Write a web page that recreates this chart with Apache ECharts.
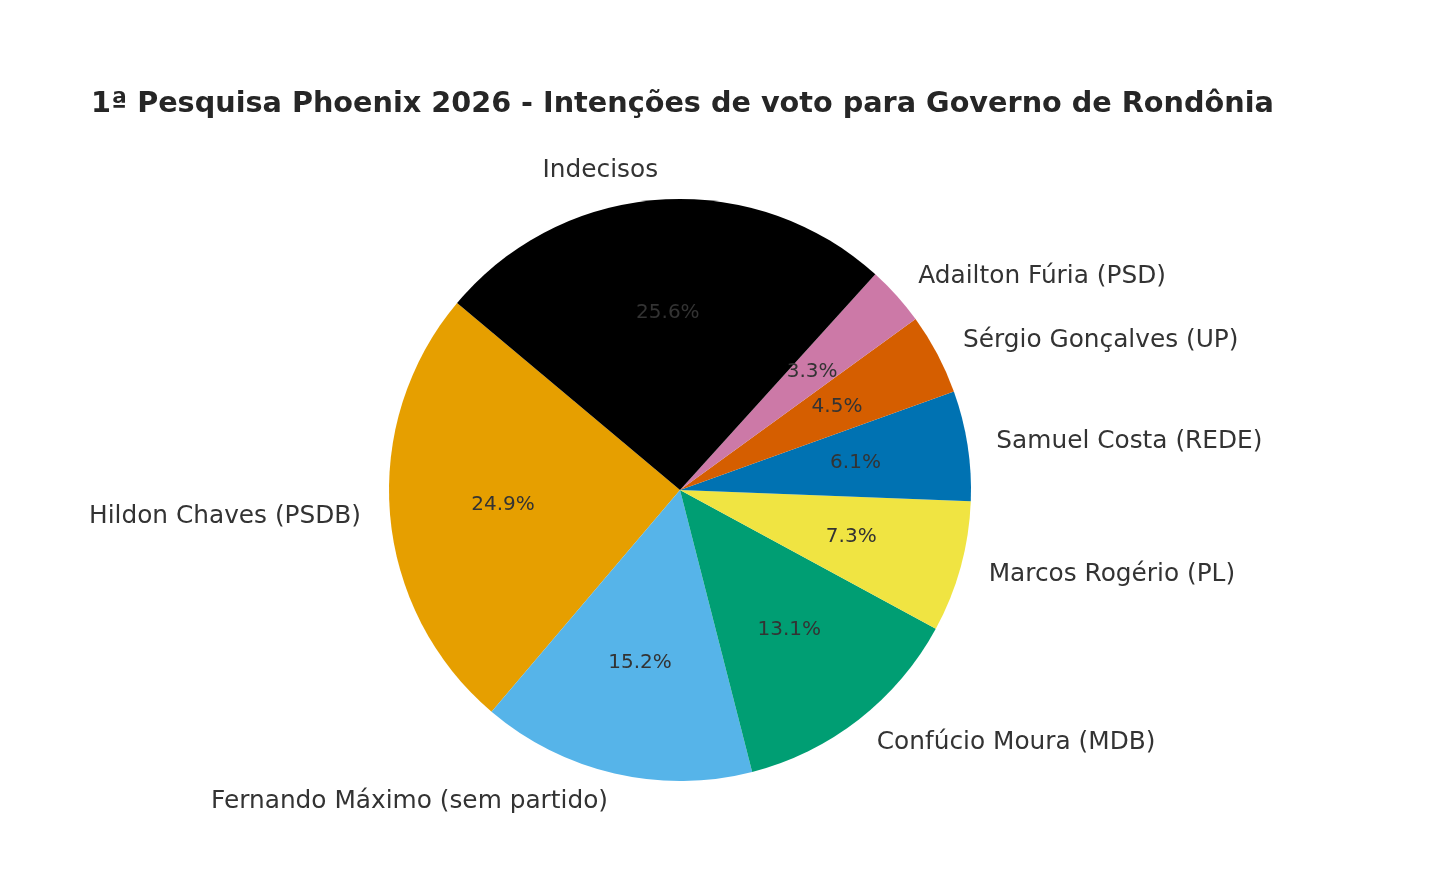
<!DOCTYPE html>
<html>
<head>
<meta charset="utf-8">
<script src="https://cdn.jsdelivr.net/npm/echarts@6/dist/echarts.min.js"></script>
<style>
  html, body { margin: 0; padding: 0; background: #fff; }
  #chart { width: 1450px; height: 889px; }
</style>
</head>
<body>
<div id="chart"></div>
<script>
const titleText = '1ª Pesquisa Phoenix 2026 - Intenções de voto para Governo de Rondônia';
const candidates = [
  'Hildon Chaves (PSDB)',
  'Fernando Máximo (sem partido)',
  'Confúcio Moura (MDB)',
  'Marcos Rogério (PL)',
  'Samuel Costa (REDE)',
  'Sérgio Gonçalves (UP)',
  'Adailton Fúria (PSD)',
  'Indecisos'
];
const shares = [24.9, 15.2, 13.1, 7.3, 6.1, 4.5, 3.3, 25.6];
const colors = ['#E69F00', '#56B4E9', '#009E73', '#F0E442', '#0072B2', '#D55E00', '#CC79A7', '#000000'];

const R = 291;
const center = [680, 490];
const font = 'DejaVu Sans';

const pieData = candidates.map((name, i) => ({
  name,
  value: shares[i],
  itemStyle: { color: colors[i] }
}));

const chart = echarts.init(document.getElementById('chart'), null, { renderer: 'canvas' });

chart.setOption({
  backgroundColor: '#ffffff',
  animation: false,
  title: {
    text: titleText,
    left: 86,
    top: 85,
    textStyle: { fontFamily: font, fontWeight: 'bold', fontSize: 28.7, color: '#262626' }
  },
  series: [
    {
      type: 'pie',
      center,
      radius: [0, R],
      startAngle: 140,
      clockwise: false,
      avoidLabelOverlap: false,
      silent: true,
      data: pieData,
      itemStyle: { borderWidth: 0 },
      label: {
        show: true,
        position: 'outside',
        formatter: '{b}',
        fontFamily: font,
        fontSize: 24.8,
        color: '#333333',
        distanceToLabelLine: 0
      },
      labelLine: { show: false, length: R * 0.1, length2: 0 }
    },
    {
      type: 'pie',
      center,
      radius: [R * 0.2, R],
      startAngle: 140,
      clockwise: false,
      avoidLabelOverlap: false,
      silent: true,
      data: pieData.map(d => ({ name: d.name, value: d.value })),
      itemStyle: { color: 'rgba(0,0,0,0)', borderWidth: 0 },
      label: {
        show: true,
        position: 'inside',
        formatter: p => p.value.toFixed(1) + '%',
        fontFamily: font,
        fontSize: 20,
        color: '#333333'
      },
      labelLine: { show: false }
    }
  ]
});
</script>
</body>
</html>
